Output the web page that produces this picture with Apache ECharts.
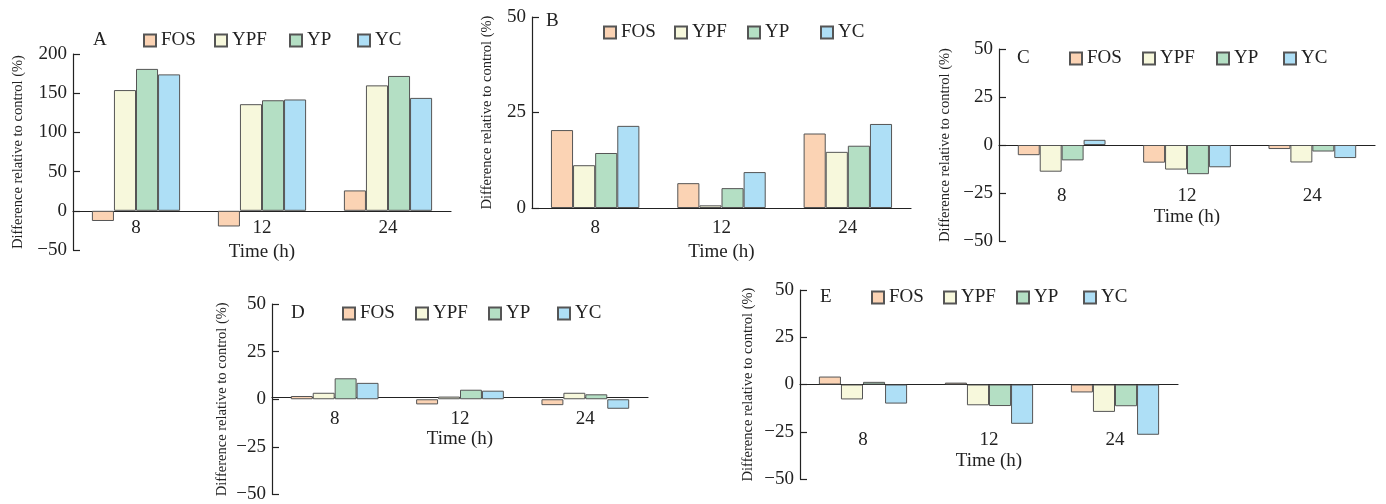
<!DOCTYPE html>
<html>
<head>
<meta charset="utf-8">
<script src="https://cdn.jsdelivr.net/npm/echarts@6/dist/echarts.min.js"></script>
<style>
  html, body { margin: 0; padding: 0; background: #fff; }
  #chart { width: 1386px; height: 504px; }
</style>
</head>
<body>
<div id="chart"></div>
<script>
// x categories (time, h) and treatment names
const categories = ["8", "12", "24"];
const seriesNames = ["FOS", "YPF", "YP", "YC"];

// Panel A
const A_FOS = [-13, -20, 26];
const A_YPF = [154, 136, 160];
const A_YP = [181, 141, 172];
const A_YC = [174, 142, 144];
// Panel B
const B_FOS = [20.4, 6.5, 19.5];
const B_YPF = [11.2, 0.7, 14.7];
const B_YP = [14.4, 5.2, 16.3];
const B_YC = [21.5, 9.4, 22.0];
// Panel C
const C_FOS = [-5.3, -9.2, -2.1];
const C_YPF = [-13.9, -12.8, -9.1];
const C_YP = [-8.0, -15.2, -3.4];
const C_YC = [2.7, -11.6, -6.8];
// Panel D
const D_FOS = [1.7, -2.7, -3.1];
const D_YPF = [3.4, 1.4, 3.4];
const D_YP = [11.0, 5.0, 2.6];
const D_YC = [8.6, 4.5, -5.0];
// Panel E
const E_FOS = [4.2, 1.0, -4.2];
const E_YPF = [-7.9, -11.0, -14.5];
const E_YP = [1.4, -11.4, -11.5];
const E_YC = [-10.1, -20.8, -26.6];

// y-axis ranges per panel: [min, max, interval]
const A_yRange = [-50, 200, 50];
const B_yRange = [0, 50, 25];
const C_yRange = [-50, 50, 25];
const D_yRange = [-50, 50, 25];
const E_yRange = [-50, 50, 25];

const colors = ["#FBD3B4", "#F7F8DC", "#B4DFC4", "#AEDFF6"];
const FONT = "'Liberation Serif', 'Times New Roman', serif";

// layout of each panel (pixels)
const panels = [
  { label: "A", data: [A_FOS, A_YPF, A_YP, A_YC], y: A_yRange,
    box: [73, 451, 54, 250], labelMargin: 8, nameGap: 32, yNameGap: 47,
    legend: [143, 214, 289, 357], legendY: 42, letter: [100, 42] },
  { label: "B", data: [B_FOS, B_YPF, B_YP, B_YC], y: B_yRange,
    box: [532, 911, 17, 208], labelMargin: 11, nameGap: 35, yNameGap: 37,
    legend: [603, 674, 747, 820], legendY: 34, letter: [553, 23] },
  { label: "C", data: [C_FOS, C_YPF, C_YP, C_YC], y: C_yRange,
    box: [999, 1375, 49, 241], labelMargin: 42, nameGap: 63, yNameGap: 46,
    legend: [1069, 1142, 1216, 1283], legendY: 60, letter: [1024, 60] },
  { label: "D", data: [D_FOS, D_YPF, D_YP, D_YC], y: D_yRange,
    box: [272, 648, 304, 498], labelMargin: 12, nameGap: 32, yNameGap: 42,
    legend: [342, 415, 488, 557], legendY: 315, letter: [298, 315] },
  { label: "E", data: [E_FOS, E_YPF, E_YP, E_YC], y: E_yRange,
    box: [800, 1178, 290, 479], labelMargin: 46, nameGap: 67, yNameGap: 44,
    legend: [871, 943, 1016, 1083], legendY: 299, letter: [827, 299] }
];

const minus = v => String(v).replace("-", "\u2212");
const axisLineStyle = { color: "#222", width: 1.2 };

const grid = [], xAxis = [], yAxis = [], series = [], legend = [], graphic = [];

panels.forEach((p, i) => {
  const [l, r, t, b] = p.box;
  const h = b - t;
  // move the whole x axis (line, ticks, labels) up to the zero line
  const zeroShift = h * (0 - p.y[0]) / (p.y[1] - p.y[0]);
  grid.push({ left: l, top: t, width: r - l, height: h });
  xAxis.push({
    type: "category", gridIndex: i, data: categories, offset: -zeroShift,
    name: "Time (h)", nameLocation: "middle", nameGap: p.nameGap,
    nameTextStyle: { fontFamily: FONT, fontSize: 19, color: "#222" },
    axisLine: { onZero: false, lineStyle: axisLineStyle },
    axisTick: { inside: true, length: 7, lineStyle: axisLineStyle },
    axisLabel: { fontFamily: FONT, fontSize: 19, color: "#222", margin: p.labelMargin },
    splitLine: { show: false }
  });
  yAxis.push({
    type: "value", gridIndex: i, min: p.y[0], max: p.y[1], interval: p.y[2],
    name: "Difference relative to control (%)", nameLocation: "middle", nameGap: p.yNameGap,
    nameTextStyle: { fontFamily: FONT, fontSize: 14.5, color: "#222" },
    axisLine: { show: true, lineStyle: axisLineStyle },
    axisTick: { show: true, inside: true, length: 7, lineStyle: axisLineStyle },
    axisLabel: { fontFamily: FONT, fontSize: 19, color: "#222", margin: 6, formatter: minus },
    splitLine: { show: false }
  });
  seriesNames.forEach((name, k) => {
    series.push({
      name: name, type: "bar", xAxisIndex: i, yAxisIndex: i,
      data: p.data[k], barGap: "0%", barCategoryGap: "30%",
      itemStyle: { color: colors[k], borderColor: "#555", borderWidth: 1 },
      emphasis: { disabled: true }
    });
    legend.push({
      data: [name], left: p.legend[k], top: p.legendY - 11, padding: 0,
      icon: "rect", itemWidth: 12, itemHeight: 12, itemGap: 0,
      textStyle: { fontFamily: FONT, fontSize: 19, color: "#222", padding: [0, 0, 0, 0] }
    });
  });
  graphic.push({
    type: "text", left: p.letter[0] - 7, top: p.letter[1] - 11,
    style: { text: p.label, font: "19px " + FONT, fill: "#222" }
  });
});

const chart = echarts.init(document.getElementById("chart"));
chart.setOption({
  animation: false,
  color: colors,
  grid, xAxis, yAxis, series, legend, graphic
});
</script>
</body>
</html>
